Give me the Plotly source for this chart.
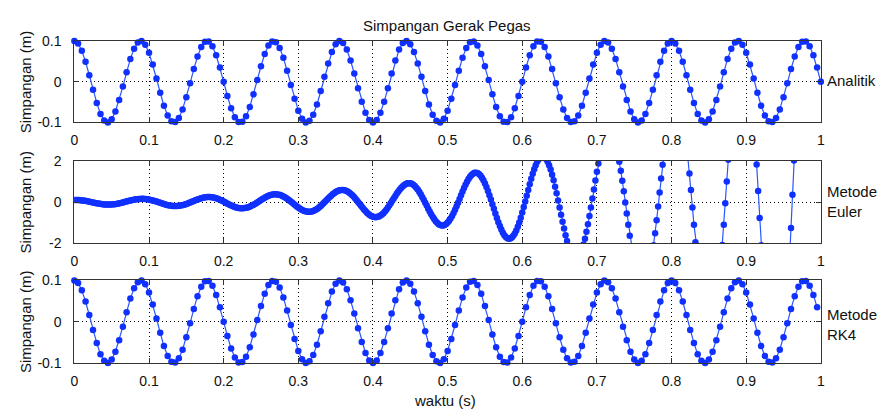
import plotly.graph_objects as go

# ---------------- data ----------------
waktu_mulai = 0.0
langkah_analitik = 0.005   # s, spacing of the Analitik / RK4 samples
langkah_euler = 0.002      # s, spacing of the Euler samples

simpangan_analitik = [
    0.100, 0.094, 0.076, 0.049, 0.016, -0.020, -0.052, -0.079, -0.095, -0.100,
    -0.092, -0.073, -0.045, -0.012, 0.023, 0.056, 0.081, 0.096, 0.100, 0.091,
    0.071, 0.042, 0.008, -0.027, -0.059, -0.083, -0.097, -0.099, -0.089, -0.068,
    -0.038, -0.004, 0.031, 0.062, 0.085, 0.098, 0.099, 0.087, 0.065, 0.035,
    0.000, -0.035, -0.065, -0.087, -0.099, -0.098, -0.085, -0.062, -0.031, 0.004,
    0.038, 0.068, 0.089, 0.099, 0.097, 0.083, 0.059, 0.027, -0.008, -0.042,
    -0.071, -0.091, -0.100, -0.096, -0.081, -0.056, -0.023, 0.012, 0.045, 0.073,
    0.092, 0.100, 0.095, 0.079, 0.052, 0.020, -0.016, -0.049, -0.076, -0.094,
    -0.100,
    -0.094, -0.076, -0.049, -0.016, 0.020, 0.052, 0.079, 0.095, 0.100, 0.092,
    0.073, 0.045, 0.012, -0.023, -0.056, -0.081, -0.096, -0.100, -0.091, -0.071,
    -0.042, -0.008, 0.027, 0.059, 0.083, 0.097, 0.099, 0.089, 0.068, 0.038,
    0.004, -0.031, -0.062, -0.085, -0.098, -0.099, -0.087, -0.065, -0.035, 0.000,
    0.035, 0.065, 0.087, 0.099, 0.098, 0.085, 0.062, 0.031, -0.004, -0.038,
    -0.068, -0.089, -0.099, -0.097, -0.083, -0.059, -0.027, 0.008, 0.042, 0.071,
    0.091, 0.100, 0.096, 0.081, 0.056, 0.023, -0.012, -0.045, -0.073, -0.092,
    -0.100, -0.095, -0.079, -0.052, -0.020, 0.016, 0.049, 0.076, 0.094, 0.100,
    0.094, 0.076, 0.049, 0.016, -0.020, -0.052, -0.079, -0.095, -0.100, -0.092,
    -0.073, -0.045, -0.012, 0.023, 0.056, 0.081, 0.096, 0.100, 0.091, 0.071,
    0.042, 0.008, -0.027, -0.059, -0.083, -0.097, -0.099, -0.089, -0.068, -0.038,
    -0.004, 0.031, 0.062, 0.085, 0.098, 0.099, 0.087, 0.065, 0.035, 0.000,
]

simpangan_rk4 = [
    0.100, 0.094, 0.076, 0.049, 0.016, -0.020, -0.052, -0.079, -0.095, -0.100,
    -0.092, -0.073, -0.045, -0.012, 0.023, 0.056, 0.081, 0.096, 0.100, 0.091,
    0.071, 0.042, 0.008, -0.027, -0.059, -0.083, -0.097, -0.099, -0.089, -0.068,
    -0.038, -0.004, 0.031, 0.062, 0.085, 0.098, 0.099, 0.087, 0.065, 0.035,
    0.000, -0.035, -0.065, -0.087, -0.099, -0.098, -0.085, -0.062, -0.031, 0.004,
    0.038, 0.068, 0.089, 0.099, 0.097, 0.083, 0.059, 0.027, -0.008, -0.042,
    -0.071, -0.091, -0.100, -0.096, -0.081, -0.056, -0.023, 0.012, 0.045, 0.073,
    0.092, 0.100, 0.095, 0.079, 0.052, 0.020, -0.016, -0.049, -0.076, -0.094,
    -0.100,
    -0.094, -0.076, -0.049, -0.016, 0.020, 0.052, 0.079, 0.095, 0.100, 0.092,
    0.073, 0.045, 0.012, -0.023, -0.056, -0.081, -0.096, -0.100, -0.091, -0.071,
    -0.042, -0.008, 0.027, 0.059, 0.083, 0.097, 0.099, 0.089, 0.068, 0.038,
    0.004, -0.031, -0.062, -0.085, -0.098, -0.099, -0.087, -0.065, -0.035, 0.000,
    0.035, 0.065, 0.087, 0.099, 0.098, 0.085, 0.062, 0.031, -0.004, -0.038,
    -0.068, -0.089, -0.099, -0.097, -0.083, -0.059, -0.027, 0.008, 0.042, 0.071,
    0.091, 0.100, 0.096, 0.081, 0.056, 0.023, -0.012, -0.045, -0.073, -0.092,
    -0.100, -0.095, -0.079, -0.052, -0.020, 0.016, 0.049, 0.076, 0.094, 0.100,
    0.094, 0.076, 0.049, 0.016, -0.020, -0.052, -0.079, -0.095, -0.100, -0.092,
    -0.073, -0.045, -0.012, 0.023, 0.056, 0.081, 0.096, 0.100, 0.091, 0.071,
    0.042, 0.008, -0.027, -0.059, -0.083, -0.097, -0.099, -0.089, -0.068, -0.038,
    -0.004, 0.031, 0.062, 0.085, 0.098, 0.099, 0.087, 0.065, 0.035,
]

simpangan_euler = [
    0.100, 0.100, 0.098, 0.094, 0.088, 0.080, 0.070, 0.059, 0.047, 0.033,
    0.018, 0.003, -0.013, -0.029, -0.044, -0.059, -0.073, -0.086, -0.098, -0.108,
    -0.115, -0.121, -0.124, -0.125, -0.124, -0.119, -0.112, -0.104, -0.093, -0.079,
    -0.064, -0.048, -0.030, -0.011, 0.009, 0.029, 0.048, 0.067, 0.085, 0.102,
    0.117, 0.130, 0.141, 0.149, 0.154, 0.156, 0.155, 0.151, 0.144, 0.134,
    0.121, 0.105, 0.087, 0.067, 0.045, 0.022, -0.002, -0.027, -0.052, -0.076,
    -0.099, -0.120, -0.140, -0.157, -0.171, -0.182, -0.190, -0.194, -0.195, -0.191,
    -0.183, -0.172, -0.157, -0.139, -0.117, -0.093, -0.066, -0.038, -0.008, 0.023,
    0.053, 0.084, 0.113, 0.140, 0.166, 0.188, 0.207, 0.223, 0.234, 0.241,
    0.243, 0.240, 0.233, 0.220, 0.203, 0.182, 0.157, 0.128, 0.095, 0.060,
    0.024, -0.014, -0.053, -0.091, -0.128, -0.163, -0.196, -0.225, -0.251, -0.272,
    -0.288, -0.298, -0.303, -0.302, -0.295, -0.281, -0.262, -0.238, -0.208, -0.173,
    -0.134, -0.091, -0.047, 0.000, 0.048, 0.096, 0.143, 0.188, 0.230, 0.268,
    0.302, 0.330, 0.352, 0.368, 0.377, 0.378, 0.372, 0.358, 0.337, 0.308,
    0.273, 0.232, 0.185, 0.134, 0.079, 0.021, -0.039, -0.099, -0.158, -0.214,
    -0.268, -0.318, -0.362, -0.400, -0.431, -0.453, -0.467, -0.472, -0.468, -0.454,
    -0.431, -0.398, -0.358, -0.309, -0.253, -0.191, -0.123, -0.052, 0.021, 0.096,
    0.170, 0.242, 0.311, 0.375, 0.433, 0.483, 0.524, 0.557, 0.578, 0.588,
    0.587, 0.574, 0.549, 0.513, 0.466, 0.408, 0.342, 0.267, 0.185, 0.097,
    0.007, -0.086, -0.179, -0.270, -0.358, -0.440, -0.515, -0.582, -0.637, -0.681,
    -0.71, -0.73, -0.74, -0.72, -0.70, -0.66, -0.60, -0.54, -0.46, -0.37,
    -0.27, -0.16, -0.05, 0.07, 0.18, 0.30, 0.41, 0.51, 0.61, 0.70,
    0.77, 0.83, 0.88, 0.91, 0.92, 0.91, 0.89, 0.84, 0.78, 0.70,
    0.61, 0.50, 0.38, 0.25, 0.11, -0.03, -0.17, -0.32, -0.46, -0.59,
    -0.72, -0.83, -0.93, -1.01, -1.08, -1.12, -1.14, -1.14, -1.12, -1.07,
    -1.00, -0.91, -0.80, -0.68, -0.53, -0.37, -0.20, -0.03, 0.15, 0.33,
    0.51, 0.68, 0.84, 0.99, 1.12, 1.23, 1.32, 1.38, 1.42, 1.43,
    1.41, 1.36, 1.29, 1.18, 1.06, 0.90, 0.73, 0.54, 0.33, 0.12,
    -0.11, -0.33, -0.56, -0.77, -0.98, -1.17, -1.34, -1.49, -1.61, -1.70,
    -1.76, -1.78, -1.77, -1.72, -1.64, -1.53, -1.38, -1.20, -0.99, -0.76,
    -0.51, -0.24, 0.03, 0.31, 0.59, 0.87, 1.13, 1.38, 1.60, 1.79,
    1.96, 2.08, 2.17, 2.22, 2.22, 2.18, 2.09, 1.96, 1.79, 1.58,
    1.33, 1.06, 0.75, 0.43, 0.08, -0.26, -0.62, -0.96, -1.29, -1.61,
    -1.90, -2.15, -2.37, -2.55, -2.68, -2.75, -2.78, -2.75, -2.66, -2.52,
    -2.32, -2.07, -1.78, -1.45, -1.08, -0.68, -0.26, 0.17, 0.61, 1.05,
    1.47, 1.87, 2.25, 2.58, 2.87, 3.11, 3.29, 3.41, 3.46, 3.45,
    3.36, 3.21, 2.99, 2.71, 2.36, 1.96, 1.52, 1.03, 0.52, -0.02,
    -0.56, -1.11, -1.64, -2.16, -2.63, -3.07, -3.46, -3.78, -4.03, -4.21,
    -4.31, -4.32, -4.24, -4.09, -3.84, -3.52, -3.11, -2.63, -2.10, -1.52,
    -0.88, -0.22, 0.46, 1.14, 1.81, 2.46, 3.08, 3.64, 4.15, 4.58,
    4.93, 5.18, 5.34, 5.40, 5.34, 5.18, 4.91, 4.55, 4.07, 3.51,
    2.87, 2.16, 1.39, 0.58, -0.26, -1.11, -1.96, -2.78, -3.57, -4.30,
    -4.96, -5.52, -6.00, -6.37, -6.60, -6.72, -6.70, -6.55, -6.27, -5.85,
    -5.31, -4.65, -3.88, -3.03, -2.09, -1.10, -0.06, 1.00, 2.06, 3.10,
    4.11, 5.04, 5.89, 6.65, 7.29, 7.79, 8.15, 8.35, 8.39, 8.26,
    7.97, 7.51, 6.89, 6.12, 5.21, 4.18, 3.04, 1.83, 0.54, -0.77,
    -2.10, -3.41, -4.68, -5.88, -6.98, -7.98, -8.83, -9.52, -10.03, -10.35,
    -10.48, -10.40, -10.11, -9.60, -8.90, -8.00, -6.93, -5.69, -4.32, -2.83,
    -1.26, 0.36, 2.02, 3.66, 5.27, 6.81, 8.23, 9.53, 10.65, 11.59,
    12.31, 12.81, 13.05, 13.04, 12.77, 12.23, 11.45, 10.41, 9.15, 7.68,
    6.03,
]

x_tickvals = [0, 0.1, 0.2, 0.3, 0.4, 0.5, 0.6, 0.7, 0.8, 0.9, 1]
x_ticktext = ["0", "0.1", "0.2", "0.3", "0.4", "0.5", "0.6", "0.7", "0.8", "0.9", "1"]
y_tickvals_kecil = [-0.1, 0, 0.1]
y_ticktext_kecil = ["-0.1", "0", "0.1"]
y_tickvals_euler = [-2, 0, 2]
y_ticktext_euler = ["-2", "0", "2"]

judul = "Simpangan Gerak Pegas"
label_x = "waktu (s)"
label_y = "Simpangan (m)"
label_kanan = ["Analitik", "Metode<br>Euler", "Metode<br>RK4"]

# ---------------- styling ----------------
W, H = 885, 419
FONT = "Liberation Sans, Arial, Helvetica, sans-serif"
TXT = "#111111"
AXC = "#333333"
BLUE_M = "#1030ff"
BLUE_L = "#2a55ff"

xdom = [71.0 / W, 824.3 / W]
def ydom(top_px, bot_px):
    return [1 - bot_px / H, 1 - top_px / H]

doms = [ydom(34.3, 119.0), ydom(159.0, 244.5), ydom(283.3, 369.0)]

fig = go.Figure()
series = [simpangan_analitik, simpangan_euler, simpangan_rk4]
steps = [langkah_analitik, langkah_euler, langkah_analitik]
clip = [False, True, False]
for i, (ys, st) in enumerate(zip(series, steps)):
    sfx = "" if i == 0 else str(i + 1)
    fig.add_trace(go.Scatter(
        y=ys, x0=waktu_mulai, dx=st, mode="lines+markers",
        line=dict(color=BLUE_L, width=1.2),
        marker=dict(color=BLUE_M, size=6.5, line=dict(width=0)),
        xaxis="x" + sfx, yaxis="y" + sfx, cliponaxis=clip[i],
        showlegend=False, hoverinfo="skip",
    ))

common = dict(
    showline=True, linecolor=AXC, linewidth=1, mirror="ticks",
    ticks="inside", ticklen=5, tickwidth=1, tickcolor=AXC,
    showgrid=True, gridcolor="#000000", gridwidth=1, griddash="1px,3px",
    zeroline=False, fixedrange=True,
    tickfont=dict(family=FONT, size=14, color=TXT),
)

layout = dict(
    width=W, height=H, autosize=False,
    margin=dict(l=0, r=0, t=0, b=0, pad=0),
    paper_bgcolor="white", plot_bgcolor="white",
    showlegend=False,
)
yrng = [[-0.1, 0.1], [-2, 2], [-0.1, 0.1]]
ytv = [y_tickvals_kecil, y_tickvals_euler, y_tickvals_kecil]
ytt = [y_ticktext_kecil, y_ticktext_euler, y_ticktext_kecil]
for i in range(3):
    sfx = "" if i == 0 else str(i + 1)
    layout["xaxis" + sfx] = dict(common, domain=xdom, range=[0, 1],
                                 anchor="y" + sfx, tickvals=x_tickvals,
                                 ticktext=x_ticktext, ticklabelstandoff=5)
    layout["yaxis" + sfx] = dict(common, domain=doms[i], range=yrng[i],
                                 anchor="x" + sfx, tickvals=ytv[i],
                                 ticktext=ytt[i], ticklabelstandoff=9)

ann = []
def txt(s, x, y, **kw):
    d = dict(text=s, x=x / W, y=1 - y / H, xref="paper", yref="paper",
             showarrow=False, font=dict(family=FONT, size=15, color=TXT))
    d.update(kw)
    ann.append(d)

txt(judul, 446.7, 18, xanchor="center", yanchor="middle")
txt(label_x, 445, 408, xanchor="center", yanchor="middle")
for yc in [76.7, 201.7, 326.0]:
    txt(label_y, 21.7, yc, xanchor="center", yanchor="middle", textangle=-90)
txt(label_kanan[0], 828, 75, xanchor="left", yanchor="middle", align="left")
txt(label_kanan[1], 828, 201.7, xanchor="left", yanchor="middle", align="left")
txt(label_kanan[2], 828, 329, xanchor="left", yanchor="middle", align="left")
layout["annotations"] = ann

fig.update_layout(**layout)
fig.write_html("out.html", config={"displayModeBar": False})
